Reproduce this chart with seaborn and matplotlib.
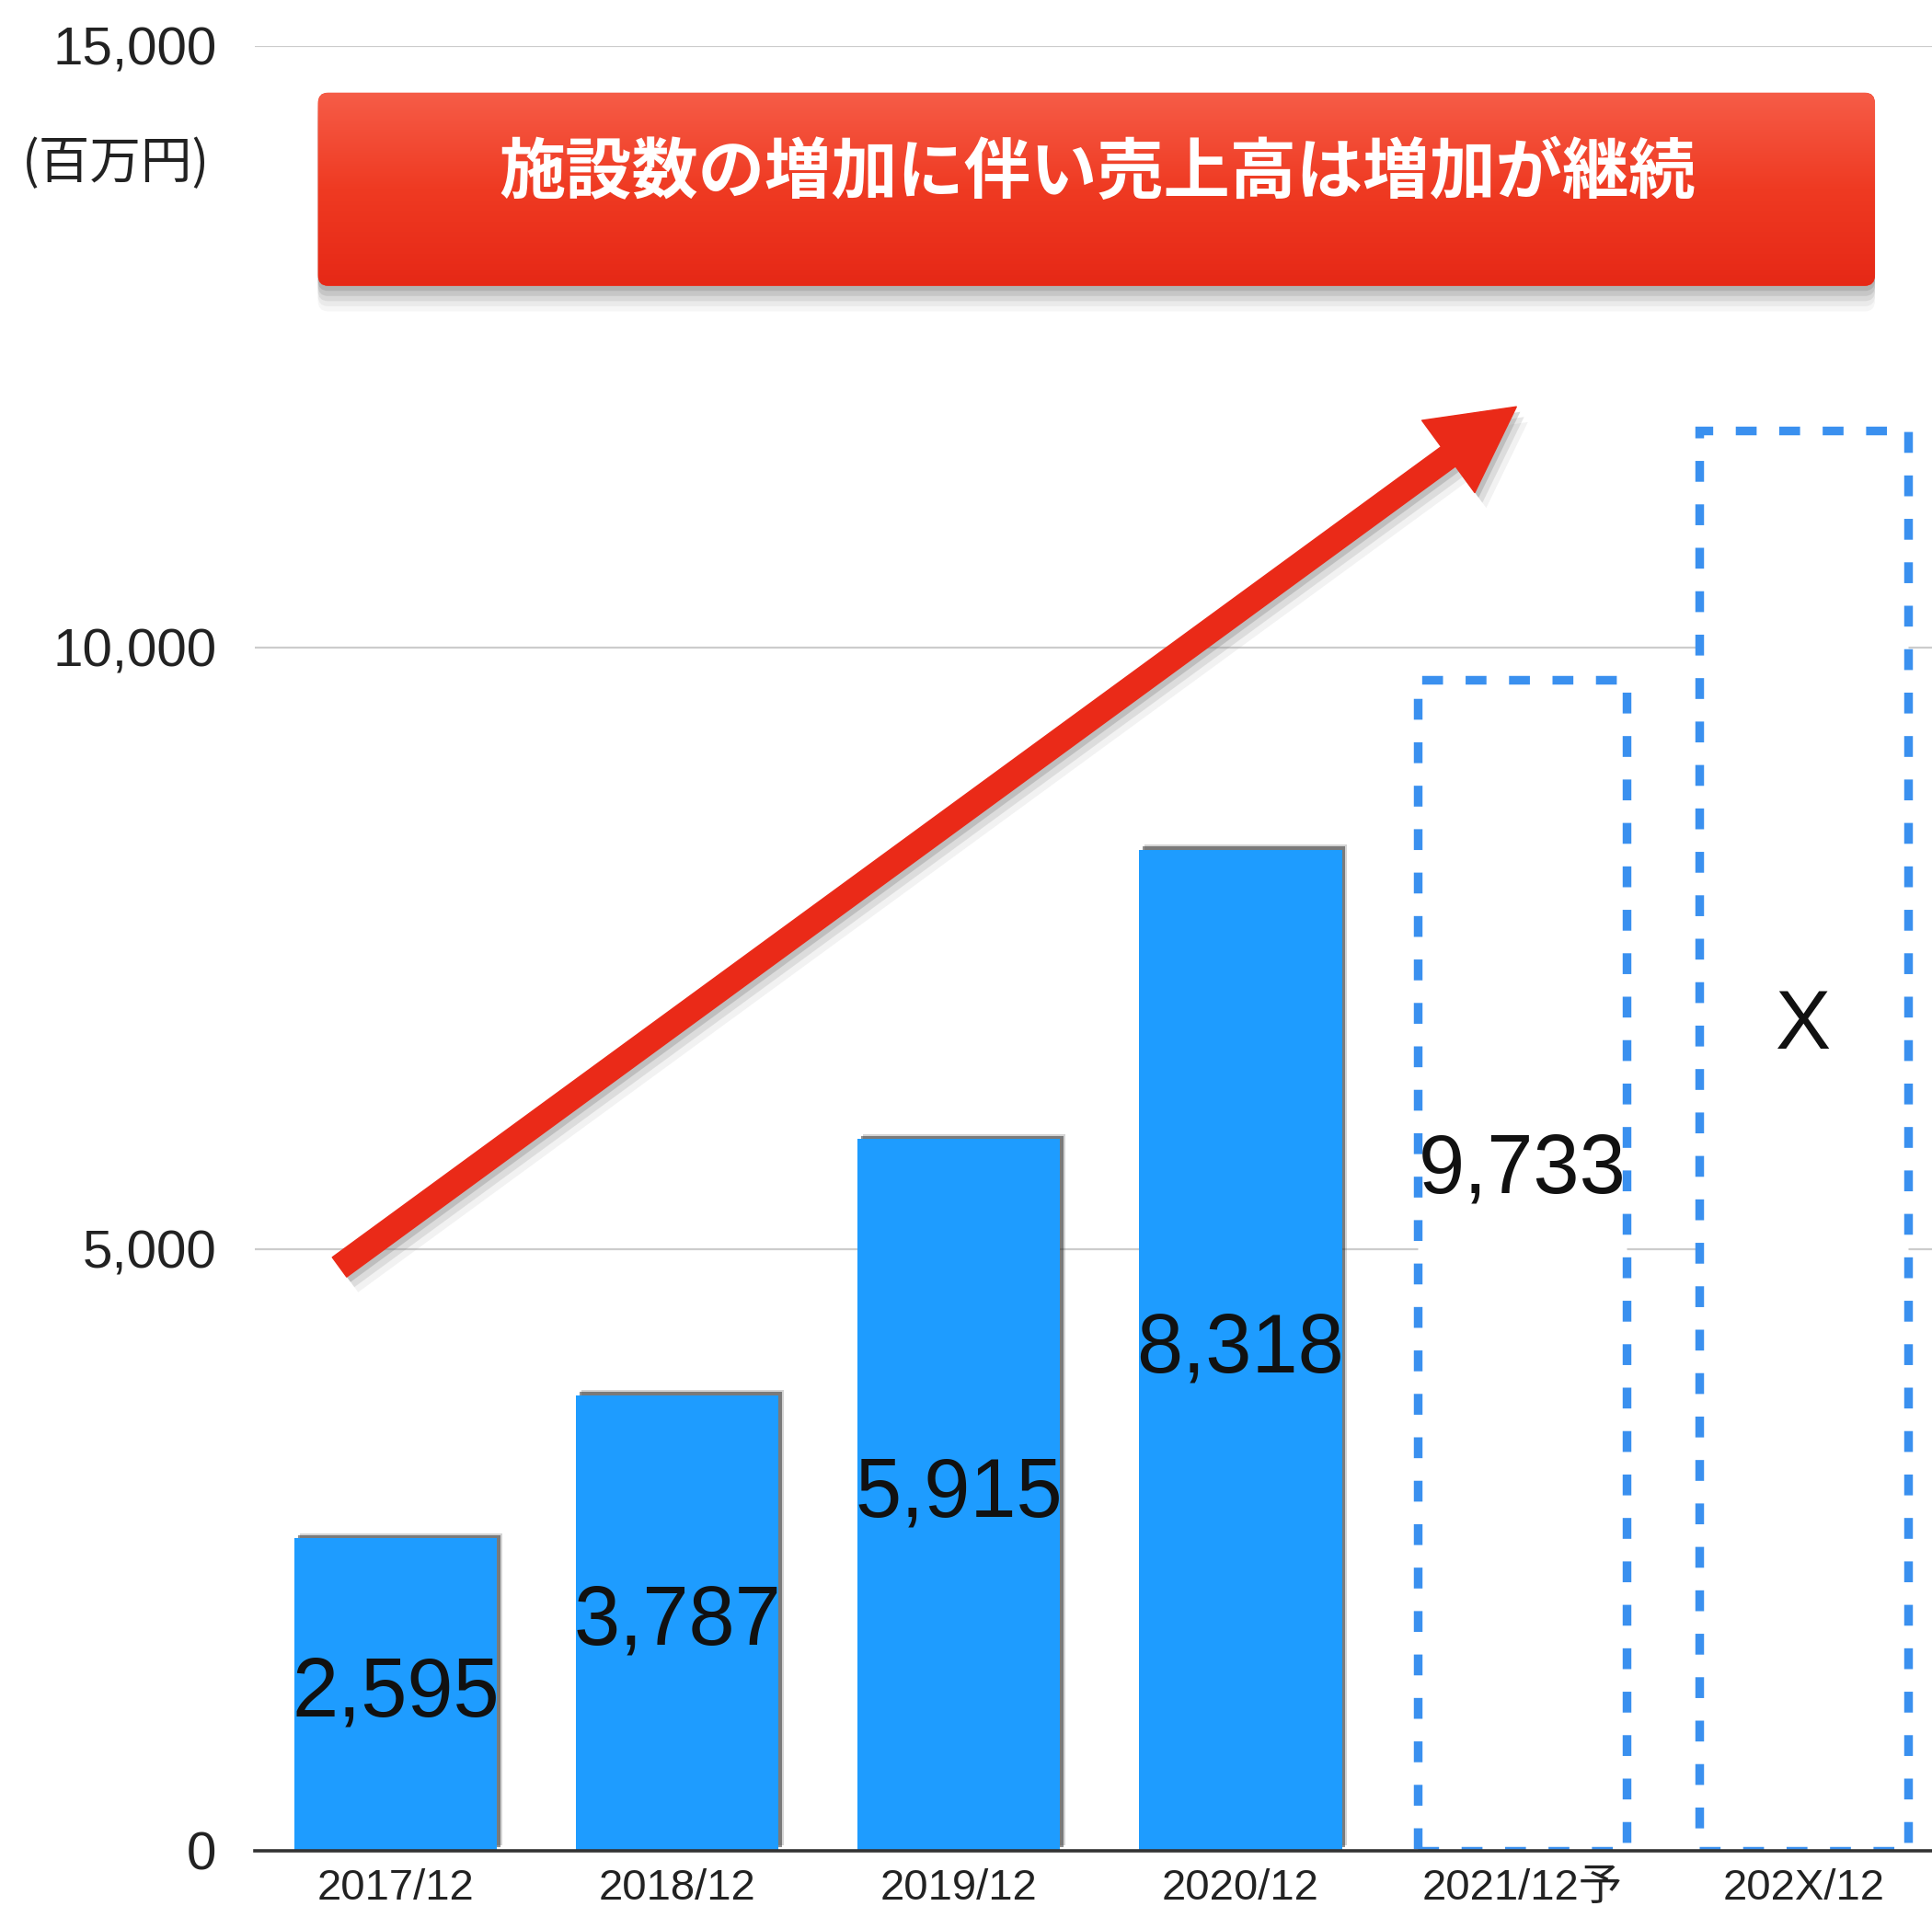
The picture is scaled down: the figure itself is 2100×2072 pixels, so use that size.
import matplotlib
matplotlib.use("Agg")
import matplotlib.pyplot as plt
import matplotlib.patheffects as pe
import numpy as np
import seaborn as sns
from matplotlib.colors import LinearSegmentedColormap
from matplotlib.patches import FancyArrowPatch, FancyBboxPatch
from matplotlib.ticker import StrMethodFormatter

# ---------------------------------------------------------------------------
# Data
# ---------------------------------------------------------------------------
PERIODS = ["2017/12", "2018/12", "2019/12", "2020/12", "2021/12予", "202X/12"]
SALES = [2595, 3787, 5915, 8318, 9733, 11800]   # last one: placeholder box height
VALUE_LABELS = ["2,595", "3,787", "5,915", "8,318", "9,733", "X"]
IS_FORECAST = [False, False, False, False, True, True]
Y_TICKS = [0, 5000, 10000, 15000]
UNIT_LABEL = "(百万円)"
BANNER_TEXT = "施設数の増加に伴い売上高は増加が継続"
TREND_START = (-0.2, 4850)
TREND_END = (3.98, 12000)

BAR_BLUE = "#1e9cff"
DASH_BLUE = "#3a90ef"
ARROW_RED = "#ea2a18"

sns.set_style("white")
plt.rcParams["font.family"] = ["Liberation Sans", "Noto Sans CJK JP", "DejaVu Sans"]

fig = plt.figure(figsize=(21, 20.72), dpi=100)
ax = fig.add_axes([0.132, 0.029, 0.868, 0.947])

# bars (seaborn), then restyle the forecast ones as dashed outlines
sns.barplot(x=PERIODS, y=SALES, color=BAR_BLUE, saturation=1, width=0.72,
            ax=ax, zorder=3)
bar_shadow = [
    pe.SimplePatchShadow(offset=(4, 4), shadow_rgbFace="#555555", alpha=0.25),
    pe.SimplePatchShadow(offset=(2.5, 2.5), shadow_rgbFace="#222222", alpha=0.5),
    pe.Normal(),
]
for patch, forecast in zip(ax.patches, IS_FORECAST):
    patch.set_edgecolor("none")
    if forecast:
        x0 = patch.get_x() + patch.get_width() / 2
        patch.set_width(0.74)
        patch.set_x(x0 - 0.37)
        patch.set_facecolor("white")
        patch.set_edgecolor(DASH_BLUE)
        patch.set_linewidth(6.8)
        patch.set_linestyle((0, (2.4, 2.6)))
        patch.set_zorder(3)
    else:
        patch.set_path_effects(bar_shadow)

# value labels
for i, (val, lab, forecast) in enumerate(zip(SALES, VALUE_LABELS, IS_FORECAST)):
    ypos = val * 0.58 if forecast else val / 2
    ax.text(i, ypos, lab, ha="center", va="center", fontsize=65,
            color="#111111", zorder=8, family=["Liberation Sans"])

# axes styling
ax.set_xlim(-0.5, 5.456)
ax.set_ylim(0, 15000)
ax.set_yticks(Y_TICKS)
ax.yaxis.set_major_formatter(StrMethodFormatter("{x:,.0f}"))
ax.grid(axis="y", color="#cccccc", linewidth=1.6, zorder=0)
ax.grid(axis="x", visible=False)
ax.set_axisbelow(True)
for side in ("left", "right", "top"):
    ax.spines[side].set_visible(False)
ax.spines["bottom"].set_color("#333333")
ax.spines["bottom"].set_linewidth(2.6)
ax.spines["bottom"].set_zorder(4)
ax.tick_params(axis="y", length=0, pad=30, labelsize=42, labelcolor="#222222")
ax.tick_params(axis="x", length=0, pad=14, labelsize=34, labelcolor="#222222")
ax.set_xlabel("")
ax.set_ylabel("")

fig.text(228 / 2100, 1 - 178 / 2072, UNIT_LABEL, ha="right", va="center",
         fontsize=40, color="#222222", family=["Noto Sans CJK JP"])

# trend arrow
arrow = FancyArrowPatch(
    TREND_START, TREND_END,
    arrowstyle="simple,head_length=0.66,head_width=0.7,tail_width=0.19",
    mutation_scale=100, color=ARROW_RED, shrinkA=0, shrinkB=0, zorder=6,
    path_effects=[
        pe.SimplePatchShadow(offset=(9, -12), shadow_rgbFace="#aaaaaa", alpha=0.15),
        pe.SimplePatchShadow(offset=(6, -8), shadow_rgbFace="#888888", alpha=0.2),
        pe.SimplePatchShadow(offset=(3, -4), shadow_rgbFace="#666666", alpha=0.25),
        pe.Normal(),
    ],
)
ax.add_patch(arrow)

# red banner with gradient and soft drop shadow
bx, by, bw, bh = 0.0375, 0.867, 0.9285, 0.107
banner_shadow = [
    pe.SimplePatchShadow(offset=(0, -off), shadow_rgbFace="#666666", alpha=a)
    for off, a in [(20, 0.06), (16, 0.08), (12, 0.12), (8, 0.16), (4, 0.2)]
]
banner = FancyBboxPatch(
    (bx, by), bw, bh, boxstyle="round,pad=0,rounding_size=0.006",
    transform=ax.transAxes, facecolor="#ee3a24", edgecolor="none", zorder=6,
    path_effects=banner_shadow + [pe.Normal()],
)
ax.add_patch(banner)
grad = np.linspace(0, 1, 256).reshape(-1, 1)
cmap = LinearSegmentedColormap.from_list("banner", ["#e62816", "#ef3a22", "#f65c47"])
im = ax.imshow(grad, extent=[bx, bx + bw, by, by + bh], transform=ax.transAxes,
               cmap=cmap, origin="lower", aspect="auto", zorder=7)
im.set_clip_path(banner)
ax.text(0.502, 0.929, BANNER_TEXT, transform=ax.transAxes, ha="center",
        va="center", fontsize=52, color="white", fontweight="bold",
        family=["Noto Sans CJK JP"], zorder=8)

ax.set_xlim(-0.5, 5.456)
ax.set_ylim(0, 15000)

fig.savefig("out.png", dpi=100)
